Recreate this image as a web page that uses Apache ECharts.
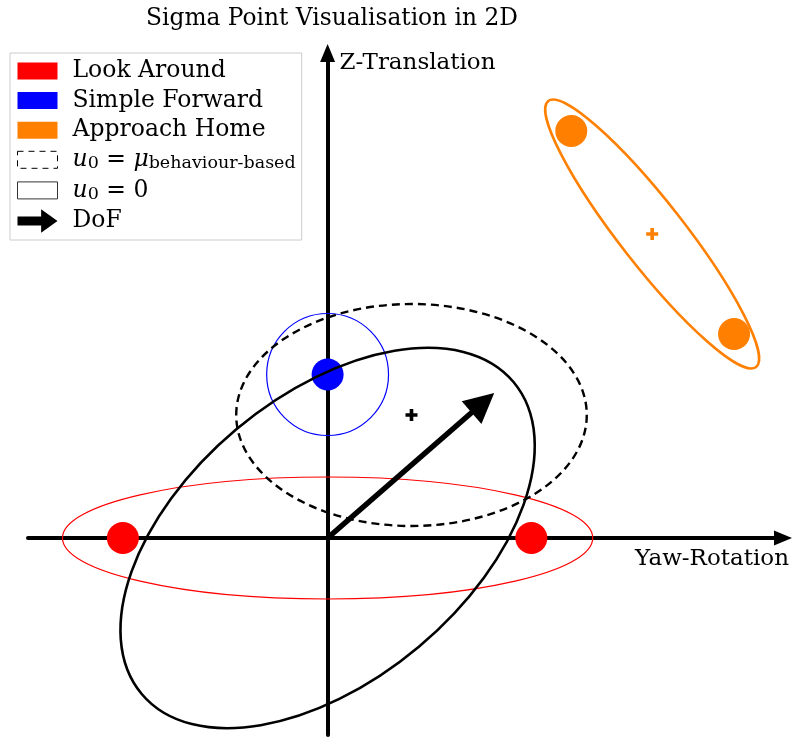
<!DOCTYPE html>
<html>
<head>
<meta charset="utf-8">
<title>Sigma Point Visualisation in 2D</title>
<script src="https://cdn.jsdelivr.net/npm/echarts@6/dist/echarts.min.js"></script>
<style>
  html, body { margin: 0; padding: 0; background: #fff; }
  #chart { width: 792px; height: 737px; }
</style>
</head>
<body>
<div id="chart"></div>
<script>
// sigma points (same scale on both axes)
const lookAroundPts = [[-2.05, 0], [2.04, 0]]
const simpleForwardPts = [[0, 1.635]]
const approachHomePts = [[2.44, 4.07], [4.07, 2.04]]
const approachHomeMean = [[3.25, 3.04]]
const behaviourMean = [[0.84, 1.23]]

// covariance ellipses: [cx, cy, semi-axis a, semi-axis b, angle in degrees]
const lookAroundEllipse = [[0, 0, 2.655, 0.61, 0]]
const simpleForwardEllipse = [[0, 1.635, 0.61, 0.61, 0]]
const approachHomeEllipse = [[3.25, 3.04, 1.69, 0.32, -52]]
const behaviourEllipse = [[0.84, 1.23, 1.755, 1.11, 0]]
const zeroEllipse = [[0, 0, 2.43, 1.42, 40]]

// degree of freedom arrow
const dofVector = [[0, 0], [1.555, 1.352]]

const FONT = 'DejaVu Serif'
const rectIcon = 'path://M0,0h40v17h-40z'
const arrowIcon = 'path://M0,8h26v-8l18,13l-18,13v-8h-26z'
const plusIcon = 'path://M3.5,0h3v3.5h3.5v3h-3.5v3.5h-3v-3.5h-3.5v-3h3.5z'

const legendLabels = {
  'Look Around': 'Look Around',
  'Simple Forward': 'Simple Forward',
  'Approach Home': 'Approach Home',
  'u0 = mu': '{i|u}{s|0}{t| = }{i|μ}{s|behaviour-based}',
  'u0 = 0': '{i|u}{s|0}{t| = 0}',
  'DoF': 'DoF'
}

function ellipseSeries (name, data, color, width, dash) {
  return {
    type: 'custom',
    name: name,
    data: data,
    z: 3,
    renderItem (params, api) {
      const c = api.coord([api.value(0), api.value(1)])
      const s = api.size([api.value(2), api.value(3)])
      return {
        type: 'ellipse',
        x: c[0],
        y: c[1],
        rotation: api.value(4) * Math.PI / 180,
        shape: { cx: 0, cy: 0, rx: s[0], ry: s[1] },
        style: { fill: 'none', stroke: color, lineWidth: width, lineDash: dash || null }
      }
    }
  }
}

function dotSeries (name, data, color, size, symbol) {
  return {
    type: 'scatter',
    name: name,
    data: data,
    symbol: symbol || 'circle',
    symbolSize: size,
    itemStyle: { color: color, opacity: 1 },
    z: 2
  }
}

const axisLine = {
  onZero: true,
  symbol: ['none', 'triangle'],
  symbolSize: [15, 18],
  lineStyle: { color: '#000', width: 4 }
}

const option = {
  animation: false,
  textStyle: { fontFamily: FONT },
  title: {
    text: 'Sigma Point Visualisation in 2D',
    left: 327,
    top: 2,
    textAlign: 'center',
    textStyle: { fontFamily: FONT, fontWeight: 'normal', fontSize: 23.3, color: '#000' }
  },
  legend: {
    orient: 'vertical',
    left: 10,
    top: 53,
    padding: [6, 6, 7, 7],
    itemGap: 5.6,
    itemWidth: 40,
    itemHeight: 26,
    backgroundColor: '#fff',
    borderColor: '#cccccc',
    borderWidth: 1,
    borderRadius: 0,
    selectedMode: false,
    formatter: name => legendLabels[name],
    textStyle: {
      fontFamily: FONT,
      fontSize: 23.5,
      color: '#000',
      padding: [0, 0, 0, 10],
      rich: {
        i: { fontFamily: FONT, fontStyle: 'italic', fontSize: 23.5, lineHeight: 26, color: '#000' },
        t: { fontFamily: FONT, fontSize: 23.5, lineHeight: 26, color: '#000' },
        s: { fontFamily: FONT, fontSize: 17.5, lineHeight: 17, verticalAlign: 'bottom', color: '#000' }
      }
    },
    data: [
      { name: 'Look Around', icon: rectIcon, itemStyle: { color: '#ff0000', borderWidth: 0 } },
      { name: 'Simple Forward', icon: rectIcon, itemStyle: { color: '#0000ff', borderWidth: 0 } },
      { name: 'Approach Home', icon: rectIcon, itemStyle: { color: '#ff8000', borderWidth: 0 } },
      { name: 'u0 = mu', icon: rectIcon, itemStyle: { color: '#fff', borderColor: '#000', borderWidth: 1, borderType: [6, 5] } },
      { name: 'u0 = 0', icon: rectIcon, itemStyle: { color: '#fff', borderColor: '#333', borderWidth: 1, borderType: 'solid' } },
      { name: 'DoF', icon: arrowIcon, itemStyle: { color: '#000', borderWidth: 0 } }
    ]
  },
  grid: { left: 28, right: 8, top: 53, bottom: 2 },
  xAxis: {
    type: 'value',
    min: -3,
    max: 4.56,
    name: 'Yaw-Rotation',
    nameLocation: 'end',
    nameGap: 6,
    nameTextStyle: { fontFamily: FONT, fontSize: 23, color: '#000', align: 'right', verticalAlign: 'top', padding: [10, 0, 0, 0] },
    axisLine: axisLine,
    axisTick: { show: false },
    axisLabel: { show: false },
    splitLine: { show: false }
  },
  yAxis: {
    type: 'value',
    min: -1.97,
    max: 4.85,
    name: 'Z-Translation',
    nameLocation: 'end',
    nameGap: -10,
    nameTextStyle: { fontFamily: FONT, fontSize: 23, color: '#000', align: 'left', verticalAlign: 'middle', padding: [0, 0, 0, 12] },
    axisLine: axisLine,
    axisTick: { show: false },
    axisLabel: { show: false },
    splitLine: { show: false }
  },
  series: [
    dotSeries('Look Around', lookAroundPts, '#ff0000', 32),
    dotSeries('Simple Forward', simpleForwardPts, '#0000ff', 32),
    dotSeries('Approach Home', approachHomePts, '#ff8000', 32),
    dotSeries('Approach Home', approachHomeMean, '#ff8000', 12, plusIcon),
    dotSeries('u0 = mu', behaviourMean, '#000', 12, plusIcon),
    ellipseSeries('Look Around', lookAroundEllipse, '#ff0000', 1.2),
    ellipseSeries('Simple Forward', simpleForwardEllipse, '#0000ff', 1.2),
    ellipseSeries('Approach Home', approachHomeEllipse, '#ff8000', 2.6),
    ellipseSeries('u0 = mu', behaviourEllipse, '#000', 2.4, [8, 5]),
    ellipseSeries('u0 = 0', zeroEllipse, '#000', 2.6),
    {
      type: 'lines',
      name: 'DoF',
      coordinateSystem: 'cartesian2d',
      data: [{ coords: dofVector }],
      symbol: ['none', 'triangle'],
      symbolSize: [22, 30],
      lineStyle: { color: '#000', width: 5.5, opacity: 1 },
      z: 4
    }
  ]
}

const myChart = echarts.init(document.getElementById('chart'))
myChart.setOption(option)
</script>
</body>
</html>
